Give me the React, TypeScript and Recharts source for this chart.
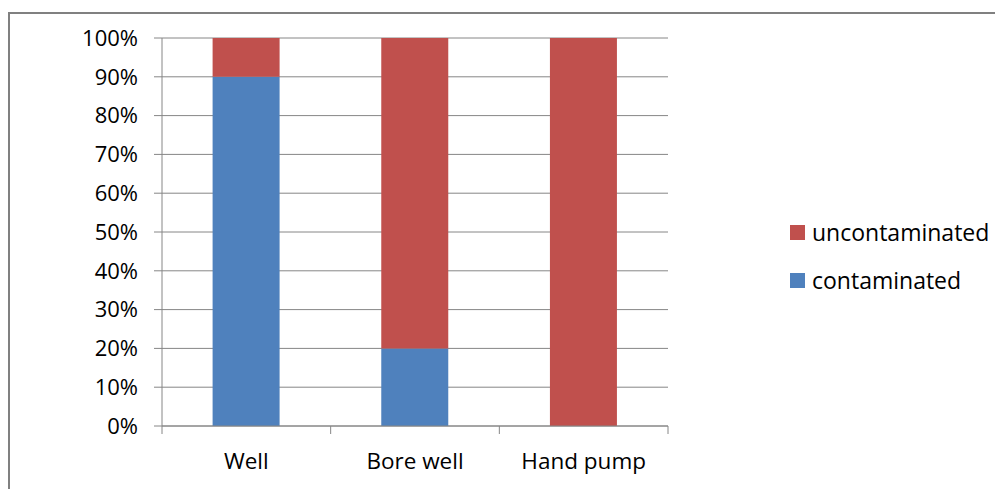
import { BarChart, Bar, XAxis, YAxis, CartesianGrid } from 'recharts';

const categories = ['Well', 'Bore well', 'Hand pump'];
const contaminated = [90, 20, 0];
const uncontaminated = [10, 80, 100];
const yTicks = [0, 10, 20, 30, 40, 50, 60, 70, 80, 90, 100];

const data = categories.map((name, i) => ({
  name,
  contaminated: contaminated[i],
  uncontaminated: uncontaminated[i],
}));

const BLUE = '#4f81bd';
const RED = '#c0504d';
const GRID = '#868686';
const FONT = '"Open Sans", sans-serif';

const CHART_W = 993;
const CHART_H = 475;
const MARGIN = { top: 24, right: 335, bottom: 0, left: 0 };
const Y_W = 152;
const BAND = (CHART_W - MARGIN.left - MARGIN.right - Y_W) / categories.length;

const CategoryTick = ({ x, y, payload, index }: any) => {
  const half = BAND / 2;
  return (
    <g>
      <line x1={x - half} y1={y} x2={x - half} y2={y + 8} stroke={GRID} />
      {index === categories.length - 1 && (
        <line x1={x + half} y1={y} x2={x + half} y2={y + 8} stroke={GRID} />
      )}
      <text x={x} y={y + 43} textAnchor="middle" fill="#000" fontSize={22.5} fontFamily={FONT}>
        {payload.value}
      </text>
    </g>
  );
};

const legendItems = [
  { label: 'uncontaminated', color: RED },
  { label: 'contaminated', color: BLUE },
];

export default function App() {
  return (
    <div
      style={{
        position: 'relative',
        marginTop: 4,
        width: CHART_W + 2,
        height: CHART_H + 2,
        borderLeft: '2px solid #808080',
        borderTop: '2px solid #808080',
        background: '#fff',
      }}
    >
      <BarChart width={CHART_W} height={CHART_H} data={data} margin={MARGIN} barCategoryGap="30%">
        <CartesianGrid vertical={false} stroke={GRID} />
        <XAxis
          dataKey="name"
          axisLine={{ stroke: GRID }}
          tickLine={false}
          tickSize={0}
          tickMargin={0}
          height={63}
          interval={0}
          tick={<CategoryTick />}
        />
        <YAxis
          domain={[0, 100]}
          ticks={yTicks}
          interval={0}
          width={Y_W}
          axisLine={{ stroke: GRID }}
          tickLine={{ stroke: GRID }}
          tickSize={8}
          tickMargin={16}
          tickFormatter={(v: number) => `${v}%`}
          tick={{ fill: '#000', fontSize: 22, fontFamily: FONT }}
        />
        <Bar dataKey="contaminated" stackId="a" fill={BLUE} isAnimationActive={false} />
        <Bar dataKey="uncontaminated" stackId="a" fill={RED} isAnimationActive={false} />
      </BarChart>
      <div
        style={{
          position: 'absolute',
          left: 780,
          top: 194,
          fontFamily: FONT,
          fontSize: 23,
          color: '#000',
        }}
      >
        {legendItems.map((it) => (
          <div key={it.label} style={{ display: 'flex', alignItems: 'center', height: 48 }}>
            <div style={{ width: 15, height: 15, background: it.color, marginRight: 7 }} />
            <span>{it.label}</span>
          </div>
        ))}
      </div>
    </div>
  );
}
